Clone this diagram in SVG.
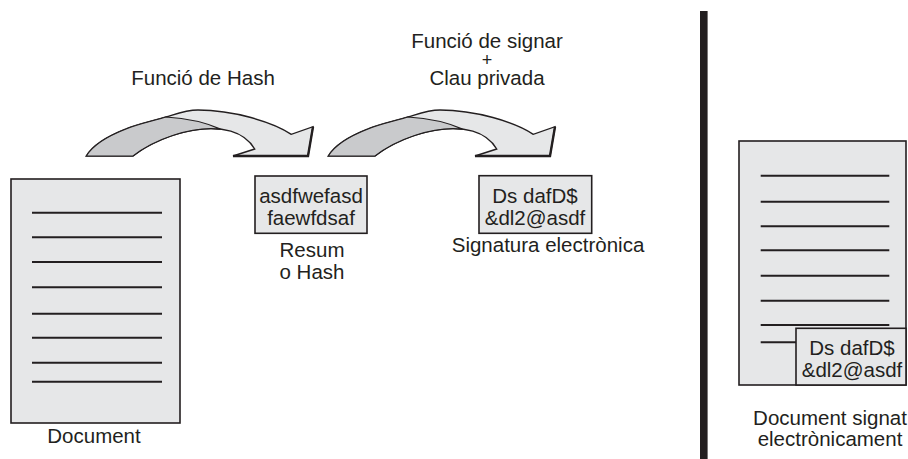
<svg xmlns="http://www.w3.org/2000/svg" width="908" height="459" viewBox="0 0 908 459">
<style>
text{font-family:"Liberation Sans",Arial,sans-serif;font-size:20.5px;fill:#231f20;text-anchor:middle}
.box{fill:#e6e7e8;stroke:#231f20;stroke-width:1.6}
.ln{stroke:#231f20;stroke-width:2}
.arr{fill:#e6e7e8;stroke:#231f20;stroke-width:1.4;stroke-linejoin:miter}
.dark{fill:#c9cacc;stroke:#231f20;stroke-width:1.2}
.edge{fill:none;stroke:#231f20;stroke-width:2.4}
</style>
<defs>
<g id="curvedArrow">
<path class="arr" d="M328.3,156 L375,156 C405,132 475,112 496.7,149 L475,156 L550,156 L555,126.7 L533.3,134.3 C515,122 475,110 440,110 C428,110 418,114 408,117 C395,121 380,124 368,129 C350,136 335,145 328.3,156 Z"/>
<path class="dark" d="M328.3,156 C335,145 350,136 368,129 C380,124 395,121 408,117 Q440,119 462.6,129.1 C433.2,125.6 395.1,139.9 375,156 Z"/>
<path class="edge" d="M475,156 L550,156 L555,126.7"/>
</g>
</defs>
<g id="labels-top">
<text x="203" y="85">Funció de Hash</text>
<text x="487" y="48">Funció de signar</text>
<text x="487" y="66" style="font-size:18px">+</text>
<text x="487" y="85">Clau privada</text>
</g>
<g id="connectors">
<use href="#curvedArrow" transform="translate(-242,0)"/>
<use href="#curvedArrow"/>
</g>
<g id="document">
<rect class="box" x="11" y="179" width="169" height="244"/>
<line class="ln" x1="32" y1="212.7" x2="162" y2="212.7"/>
<line class="ln" x1="32" y1="237.3" x2="162" y2="237.3"/>
<line class="ln" x1="32" y1="262" x2="162" y2="262"/>
<line class="ln" x1="32" y1="287.3" x2="162" y2="287.3"/>
<line class="ln" x1="32" y1="313.7" x2="162" y2="313.7"/>
<line class="ln" x1="32" y1="337.7" x2="162" y2="337.7"/>
<line class="ln" x1="32" y1="362.7" x2="162" y2="362.7"/>
<line class="ln" x1="32" y1="381.7" x2="162" y2="381.7"/>
<text x="94" y="442.5">Document</text>
</g>
<g id="hash">
<rect class="box" x="255" y="176" width="112" height="57.3"/>
<text x="311" y="202.7">asdfwefasd</text>
<text x="311" y="224.5">faewfdsaf</text>
<text x="312" y="256.5">Resum</text>
<text x="312" y="279">o Hash</text>
</g>
<g id="signature">
<rect class="box" x="479" y="175.7" width="112.7" height="57.6"/>
<text x="535" y="202.7">Ds dafD$</text>
<text x="535" y="224.5">&amp;dl2@asdf</text>
<text x="548" y="252">Signatura electrònica</text>
</g>
<g id="divider">
<rect x="700" y="11" width="7.6" height="448" fill="#231f20"/>
</g>
<g id="signed-document">
<rect class="box" x="739" y="141" width="167" height="244"/>
<line class="ln" x1="760.7" y1="175.7" x2="889.3" y2="175.7"/>
<line class="ln" x1="760.7" y1="201.7" x2="889.3" y2="201.7"/>
<line class="ln" x1="760.7" y1="226.3" x2="889.3" y2="226.3"/>
<line class="ln" x1="760.7" y1="250.3" x2="889.3" y2="250.3"/>
<line class="ln" x1="760.7" y1="275.7" x2="889.3" y2="275.7"/>
<line class="ln" x1="760.7" y1="300.7" x2="889.3" y2="300.7"/>
<line class="ln" x1="760.7" y1="325" x2="889.3" y2="325"/>
<line class="ln" x1="760.7" y1="342.3" x2="796" y2="342.3"/>
<rect class="box" x="796" y="328.3" width="110" height="56.7"/>
<text x="852" y="355">Ds dafD$</text>
<text x="852" y="376.5">&amp;dl2@asdf</text>
<text x="830" y="425">Document signat</text>
<text x="830" y="446">electrònicament</text>
</g>
</svg>
